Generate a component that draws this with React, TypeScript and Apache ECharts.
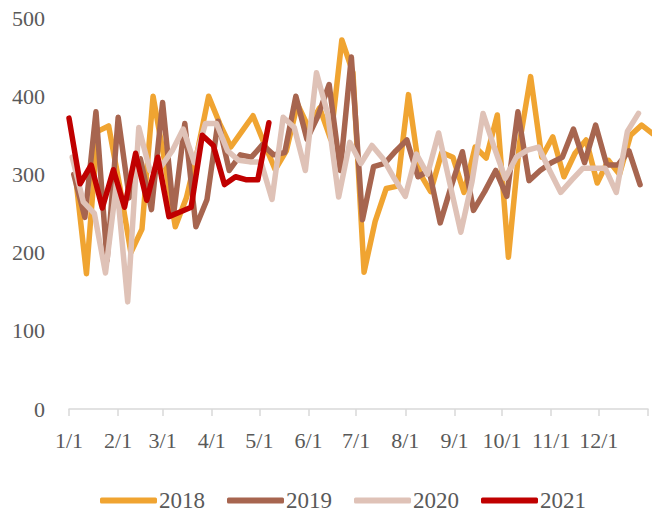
import React, { useEffect, useRef } from "react";
import * as echarts from "echarts";

const years = ["2018", "2019", "2020", "2021"];
const colors = ["#F0A431", "#A7654F", "#DFC2B7", "#C00000"];
// first weekly observation of each year, as day of year (0 = Jan 1)
const startDays = [4, 3, 2, 0];

const values2018 = [300, 173, 355, 362, 285, 200, 230, 400, 320, 233, 270, 330, 400, 365, 335, 355, 375, 340, 306, 330, 390, 360, 385, 345, 472, 430, 175, 240, 282, 285, 402, 302, 278, 328, 322, 277, 335, 321, 376, 194, 340, 425, 322, 348, 297, 327, 344, 289, 318, 300, 350, 363, 352];
const values2019 = [300, 245, 380, 190, 373, 270, 320, 255, 392, 250, 365, 233, 268, 368, 305, 325, 322, 338, 325, 328, 400, 345, 375, 415, 305, 450, 242, 310, 314, 330, 344, 297, 305, 238, 285, 329, 254, 278, 305, 272, 380, 292, 305, 315, 322, 358, 315, 363, 312, 312, 330, 287];
const values2020 = [322, 265, 250, 174, 290, 137, 360, 305, 310, 330, 358, 315, 365, 365, 330, 318, 316, 316, 268, 373, 360, 305, 430, 378, 271, 341, 314, 337, 320, 295, 272, 326, 300, 353, 289, 226, 290, 378, 335, 295, 322, 331, 335, 305, 277, 293, 308, 308, 308, 277, 355, 378];
const values2021 = [372, 288, 312, 257, 306, 258, 327, 267, 322, 246, 252, 258, 350, 337, 287, 297, 293, 293, 366];
const seriesValues = [values2018, values2019, values2020, values2021];

const monthStarts = [0, 31, 59, 90, 120, 151, 181, 212, 243, 273, 304, 334];
const monthLabels = ["1/1", "2/1", "3/1", "4/1", "5/1", "6/1", "7/1", "8/1", "9/1", "10/1", "11/1", "12/1"];
const yearEnd = 365;

const FONT = "Liberation Serif";

export default function App() {
  const ref = useRef<HTMLDivElement>(null);
  useEffect(() => {
    if (!ref.current) return;
    const chart = echarts.init(ref.current, null, { renderer: "svg" });
    const series = years.map((name, si) => ({
      name,
      type: "line",
      data: seriesValues[si].map((v, i) => [startDays[si] + 7 * i, v]),
      showSymbol: false,
      symbol: "none",
      clip: false,
      lineStyle: { color: colors[si], width: 5.5, cap: "round", join: "round" },
      itemStyle: { color: colors[si] },
    }));
    chart.setOption({
      animation: false,
      grid: { left: 69, right: 8, top: 18, bottom: 103, containLabel: false },
      legend: {
        data: years,
        left: 95,
        top: 484,
        icon: "roundRect",
        itemWidth: 57,
        itemHeight: 6,
        itemGap: 22,
        textStyle: { fontFamily: FONT, fontSize: 23, color: "#595959", padding: [0, 0, 0, -3] },
      },
      xAxis: {
        type: "value",
        min: 0,
        max: yearEnd,
        splitLine: { show: false },
        axisLine: { show: true, lineStyle: { color: "#D9D9D9", width: 1.5 } },
        axisTick: {
          show: true,
          customValues: [...monthStarts, yearEnd],
          length: 7,
          lineStyle: { color: "#D9D9D9", width: 1.5 },
        },
        axisLabel: {
          customValues: monthStarts,
          formatter: (v: number) => {
            const idx = monthStarts.indexOf(Math.round(v));
            return idx >= 0 ? monthLabels[idx] : "";
          },
          fontFamily: FONT,
          fontSize: 22,
          color: "#595959",
          margin: 20,
        },
      },
      yAxis: {
        type: "value",
        min: 0,
        max: 500,
        interval: 100,
        splitLine: { show: false },
        axisLine: { show: false },
        axisTick: { show: false },
        axisLabel: { fontFamily: FONT, fontSize: 22, color: "#595959", margin: 24 },
      },
      series,
    });
    return () => chart.dispose();
  }, []);
  return (
    <div
      ref={ref}
      style={{ position: "fixed", left: 0, top: 0, width: 656, height: 512, background: "#fff" }}
    />
  );
}
